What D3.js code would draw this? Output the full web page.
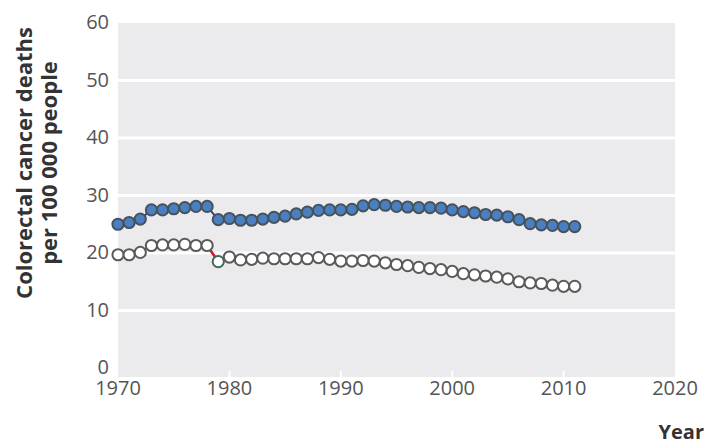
<!DOCTYPE html>
<html lang="en">
<head>
  <meta charset="utf-8" />
  <title>Colorectal cancer deaths</title>
  <style>
    body { margin: 0; background: #fff; }
    text { font-family: "Open Sans", sans-serif; }
  </style>
  <script src="https://d3js.org/d3.v7.min.js"></script>
</head>
<body>
<script>

// data
const years = d3.range(1970, 2012);
const filled = [25.0, 25.3, 25.9, 27.5, 27.5, 27.7, 27.9, 28.1, 28.1, 25.8,
  26.0, 25.7, 25.7, 25.9, 26.2, 26.4, 26.8, 27.1, 27.4, 27.5,
  27.5, 27.6, 28.2, 28.4, 28.3, 28.1, 28.0, 27.9, 27.9, 27.8,
  27.5, 27.2, 27.0, 26.7, 26.6, 26.3, 25.8, 25.1, 24.9, 24.8,
  24.6, 24.6];
const open = [19.7, 19.7, 20.1, 21.3, 21.4, 21.4, 21.5, 21.3, 21.3, 18.5,
  19.3, 18.8, 18.9, 19.1, 19.0, 19.0, 19.0, 19.0, 19.2, 18.9,
  18.6, 18.6, 18.7, 18.6, 18.3, 18.0, 17.8, 17.5, 17.3, 17.1,
  16.8, 16.4, 16.2, 16.0, 15.8, 15.5, 15.0, 14.8, 14.7, 14.4,
  14.2, 14.2];
const yTicks = [0, 10, 20, 30, 40, 50, 60];
const xTicks = [1970, 1980, 1990, 2000, 2010, 2020];

const W = 707, H = 446;
const svg = d3.select("body").append("svg")
  .attr("width", W).attr("height", H);

// scales
const x = d3.scaleLinear().domain([1970, 2020]).range([118, 675]);
const y = d3.scaleLinear().domain([0, 60]).range([368, 23]);

// plot background
svg.append("rect")
  .attr("x", x(1970)).attr("y", y(60))
  .attr("width", x(2020) - x(1970))
  .attr("height", y(0) + 9 - y(60))
  .attr("fill", "#ebebed");

// white grid lines
svg.selectAll(".grid")
  .data(yTicks.filter(d => d > 0 && d < 60))
  .join("line")
    .attr("x1", x(1970)).attr("x2", x(2020))
    .attr("y1", d => y(d)).attr("y2", d => y(d))
    .attr("stroke", "#fff").attr("stroke-width", 3);

// small white ticks at the bottom
svg.selectAll(".xt")
  .data(xTicks.slice(1, -1))
  .join("line")
    .attr("x1", d => x(d)).attr("x2", d => x(d))
    .attr("y1", y(0) + 9).attr("y2", y(0) + 3)
    .attr("stroke", "#fff").attr("stroke-width", 2);

// axis labels
svg.selectAll(".yl")
  .data(yTicks)
  .join("text")
    .attr("x", 109).attr("y", d => y(d) - 1)
    .attr("dy", "0.35em")
    .attr("text-anchor", "end")
    .attr("font-size", 20)
    .attr("fill", "#555")
    .text(d => d);

svg.selectAll(".xl")
  .data(xTicks)
  .join("text")
    .attr("x", d => x(d)).attr("y", 395)
    .attr("text-anchor", "middle")
    .attr("font-size", 20)
    .attr("fill", "#555")
    .text(d => d);

// titles
const yt = svg.append("text")
  .attr("transform", "translate(41,163) rotate(-90)")
  .attr("text-anchor", "middle")
  .attr("font-size", 22)
  .attr("font-weight", "bold")
  .attr("fill", "#333");
yt.append("tspan").attr("x", 0).attr("dy", "-0.42em").text("Colorectal cancer deaths");
yt.append("tspan").attr("x", 0).attr("dy", "1.15em").text("per 100 000 people");

svg.append("text")
  .attr("x", 704).attr("y", 439)
  .attr("text-anchor", "end")
  .attr("font-size", 20)
  .attr("font-weight", "bold")
  .attr("fill", "#333")
  .text("Year");

// lines
const line = d3.line().x(d => x(d[0])).y(d => y(d[1]));
const filledPts = years.map((yr, i) => [yr, filled[i]]);
const openPts = years.map((yr, i) => [yr, open[i]]);

svg.append("path").datum(filledPts)
  .attr("d", line).attr("fill", "none")
  .attr("stroke", "#2b3f8e").attr("stroke-width", 2);
svg.append("path").datum(openPts)
  .attr("d", line).attr("fill", "none")
  .attr("stroke", "#666").attr("stroke-width", 2);
// red break segment 1978-1979
svg.append("path").datum(openPts.slice(8, 10))
  .attr("d", line).attr("fill", "none")
  .attr("stroke", "#e0182b").attr("stroke-width", 2.5);

// dots
svg.selectAll(".dotF")
  .data(filledPts)
  .join("circle")
    .attr("cx", d => x(d[0])).attr("cy", d => y(d[1]))
    .attr("r", 5.6)
    .attr("fill", "#4a7fc1")
    .attr("stroke", "#46525c").attr("stroke-width", 2);

svg.selectAll(".dotO")
  .data(openPts)
  .join("circle")
    .attr("cx", d => x(d[0])).attr("cy", d => y(d[1]))
    .attr("r", 5.6)
    .attr("fill", "#fff")
    .attr("stroke", d => d[0] === 1979 ? "#3d6b55" : "#5a5a5a")
    .attr("stroke-width", 2);

</script>
</body>
</html>
